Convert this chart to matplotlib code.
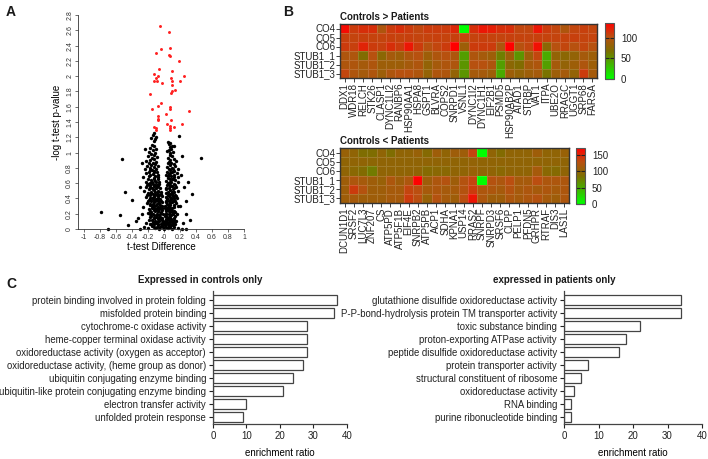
import numpy as np
import matplotlib
matplotlib.use("Agg")
import matplotlib.pyplot as plt
from matplotlib.colors import LinearSegmentedColormap

plt.rcParams['font.family'] = ['Liberation Sans', 'DejaVu Sans']
plt.rcParams['text.color'] = '#1a1a1a'
plt.rcParams['axes.edgecolor'] = '#333333'

# ---------------- data ----------------
# A: volcano plot, significant proteins (red)
red_pts = [(-0.05, 2.66), (0.06, 2.58), (-0.04, 2.36), (0.08, 2.37), (-0.10, 2.30),
           (0.06, 2.28), (0.075, 2.26), (0.19, 2.20), (-0.06, 2.09), (0.10, 2.07),
           (-0.12, 2.03), (-0.075, 2.00), (0.25, 2.00), (-0.10, 1.98), (0.09, 1.98),
           (-0.13, 1.94), (-0.09, 1.93), (-0.03, 1.91), (0.10, 1.93), (0.20, 1.94),
           (0.10, 1.88), (0.14, 1.82), (0.10, 1.80), (0.09, 1.78), (-0.17, 1.76),
           (-0.04, 1.65), (-0.075, 1.61), (0.075, 1.59), (0.08, 1.57), (-0.15, 1.57),
           (0.31, 1.54), (0.025, 1.51), (-0.07, 1.48), (-0.07, 1.44), (0.09, 1.43),
           (-0.075, 1.42), (0.04, 1.37), (0.225, 1.37), (-0.12, 1.34), (-0.10, 1.32),
           (0.07, 1.35), (0.08, 1.32), (0.12, 1.33), (-0.10, 1.30), (0.07, 1.30)]

# A: non-significant proteins (black)
black_pts = [
    (-0.12, 1.26), (-0.14, 1.23), (-0.10, 1.21), (-0.16, 1.19), (-0.11, 1.18), (-0.13, 1.15),
    (0.08, 1.13), (0.06, 1.11), (0.10, 1.09), (0.07, 1.07), (0.05, 1.14),
    (-0.15, 1.10), (-0.12, 1.08), (-0.17, 1.06), (-0.10, 1.05), (-0.14, 1.03), (-0.19, 1.01), (-0.11, 1.00),
    (0.09, 1.05), (0.06, 1.03), (0.11, 1.01), (0.08, 0.99), (0.04, 1.02), (0.13, 1.08),
    (-0.16, 0.98), (-0.13, 0.97), (-0.20, 0.95), (-0.09, 0.94), (-0.15, 0.93), (-0.12, 0.91),
    (-0.18, 0.90), (-0.23, 0.89), (-0.10, 0.88),
    (0.07, 0.97), (0.10, 0.95), (0.05, 0.93), (0.12, 0.92), (0.08, 0.90), (0.15, 0.89), (0.06, 0.88),
    (-0.14, 0.87), (-0.19, 0.86), (-0.11, 0.85), (-0.16, 0.84), (-0.08, 0.83), (-0.21, 0.82),
    (-0.13, 0.81), (-0.17, 0.80), (-0.10, 0.79), (-0.24, 0.78),
    (0.09, 0.87), (0.05, 0.86), (0.12, 0.85), (0.07, 0.84), (0.14, 0.82), (0.04, 0.81),
    (0.10, 0.80), (0.17, 0.79), (0.06, 0.78),
    (-0.15, 0.77), (-0.12, 0.76), (-0.19, 0.75), (-0.09, 0.74), (-0.22, 0.73), (-0.14, 0.72),
    (-0.07, 0.71), (-0.17, 0.70), (-0.11, 0.69), (-0.26, 0.68),
    (0.08, 0.77), (0.13, 0.76), (0.04, 0.75), (0.10, 0.74), (0.16, 0.73), (0.06, 0.72),
    (0.12, 0.71), (0.03, 0.70), (0.09, 0.69), (0.18, 0.68),
    (-0.13, 0.67), (-0.20, 0.66), (-0.08, 0.65), (-0.16, 0.64), (-0.11, 0.63), (-0.23, 0.62),
    (-0.06, 0.61), (-0.18, 0.60), (-0.14, 0.59), (-0.09, 0.58), (-0.21, 0.58),
    (0.05, 0.67), (0.11, 0.66), (0.07, 0.65), (0.14, 0.64), (0.03, 0.63), (0.09, 0.62),
    (0.17, 0.61), (0.05, 0.60), (0.12, 0.59), (0.08, 0.58),
    (-0.17, 0.57), (-0.12, 0.56), (-0.07, 0.56), (-0.22, 0.55), (-0.15, 0.54), (-0.10, 0.53),
    (-0.05, 0.53), (-0.19, 0.52), (-0.13, 0.51), (-0.08, 0.50), (-0.25, 0.50), (-0.16, 0.49),
    (-0.11, 0.48), (-0.04, 0.48),
    (0.04, 0.57), (0.10, 0.56), (0.15, 0.55), (0.06, 0.54), (0.12, 0.53), (0.02, 0.52),
    (0.08, 0.51), (0.18, 0.50), (0.05, 0.49), (0.13, 0.48), (0.10, 0.48),
    (-0.20, 0.47), (-0.14, 0.46), (-0.09, 0.46), (-0.06, 0.45), (-0.17, 0.44), (-0.12, 0.43),
    (-0.03, 0.43), (-0.23, 0.42), (-0.08, 0.41), (-0.15, 0.40), (-0.10, 0.39), (-0.05, 0.39),
    (-0.19, 0.38), (-0.13, 0.38),
    (0.03, 0.47), (0.08, 0.46), (0.14, 0.45), (0.06, 0.44), (0.11, 0.43), (0.02, 0.42),
    (0.16, 0.41), (0.09, 0.40), (0.04, 0.39), (0.13, 0.38), (0.07, 0.38),
    (-0.16, 0.37), (-0.11, 0.36), (-0.07, 0.36), (-0.03, 0.35), (-0.21, 0.34), (-0.14, 0.33),
    (-0.09, 0.33), (-0.05, 0.32), (-0.18, 0.31), (-0.12, 0.30), (-0.02, 0.30), (-0.08, 0.29),
    (-0.15, 0.28), (-0.26, 0.29),
    (0.02, 0.37), (0.06, 0.36), (0.10, 0.35), (0.15, 0.34), (0.04, 0.33), (0.08, 0.32),
    (0.12, 0.31), (0.01, 0.30), (0.18, 0.30), (0.06, 0.29), (0.10, 0.28),
    (-0.13, 0.27), (-0.10, 0.26), (-0.06, 0.26), (-0.02, 0.25), (-0.17, 0.24), (-0.11, 0.23),
    (-0.07, 0.23), (-0.04, 0.22), (-0.20, 0.21), (-0.14, 0.20), (-0.09, 0.20), (-0.01, 0.19),
    (-0.06, 0.18), (-0.12, 0.18),
    (0.01, 0.27), (0.05, 0.26), (0.09, 0.25), (0.13, 0.24), (0.03, 0.23), (0.07, 0.22),
    (0.11, 0.21), (0.16, 0.20), (0.02, 0.20), (0.06, 0.19), (0.09, 0.18),
    (-0.16, 0.17), (-0.10, 0.16), (-0.05, 0.16), (-0.02, 0.15), (-0.13, 0.14), (-0.08, 0.13),
    (-0.04, 0.13), (-0.19, 0.12), (-0.11, 0.11), (-0.06, 0.11), (-0.01, 0.10), (-0.14, 0.09),
    (-0.09, 0.09), (-0.03, 0.08), (-0.22, 0.08),
    (0.01, 0.17), (0.04, 0.16), (0.08, 0.15), (0.12, 0.14), (0.02, 0.13), (0.06, 0.12),
    (0.10, 0.11), (0.15, 0.10), (0.03, 0.10), (0.07, 0.09), (0.00, 0.08), (0.11, 0.08),
    (-0.18, 0.07), (-0.12, 0.06), (-0.07, 0.06), (-0.03, 0.05), (0.01, 0.05), (0.05, 0.06),
    (0.09, 0.05), (0.14, 0.06), (-0.15, 0.04), (-0.09, 0.03), (-0.05, 0.03), (-0.01, 0.02),
    (0.03, 0.03), (0.07, 0.02), (0.12, 0.03), (-0.25, 0.02), (-0.20, 0.01), (-0.11, 0.01),
    (-0.06, 0.00), (0.00, 0.00), (0.05, 0.01), (0.10, 0.00), (0.17, 0.01), (0.22, 0.00),
    (-0.30, 0.00), (0.28, 0.00),
    # denser core
    (-0.13, 0.02), (-0.08, 0.05), (-0.04, 0.07), (0.02, 0.07), (0.06, 0.04), (0.11, 0.05),
    (-0.16, 0.06), (-0.02, 0.04), (0.04, 0.09), (0.08, 0.07), (-0.10, 0.08), (0.13, 0.09),
    (-0.15, 0.12), (-0.12, 0.15), (-0.07, 0.14), (-0.03, 0.12), (0.02, 0.11), (0.05, 0.14),
    (0.09, 0.13), (0.13, 0.12), (-0.18, 0.16), (-0.09, 0.18), (0.03, 0.19), (0.07, 0.17),
    (0.11, 0.19), (-0.05, 0.20), (-0.17, 0.19), (0.14, 0.17),
    (-0.16, 0.22), (-0.12, 0.25), (-0.08, 0.24), (-0.05, 0.27), (-0.19, 0.26), (-0.15, 0.30),
    (0.02, 0.25), (0.06, 0.23), (0.10, 0.24), (0.14, 0.22), (0.04, 0.28), (0.08, 0.27),
    (0.12, 0.29), (-0.09, 0.28), (-0.03, 0.28),
    (-0.17, 0.33), (-0.13, 0.35), (-0.10, 0.32), (-0.06, 0.34), (-0.20, 0.36), (-0.04, 0.37),
    (-0.08, 0.38), (0.03, 0.35), (0.07, 0.34), (0.11, 0.37), (0.14, 0.36), (0.05, 0.31),
    (0.09, 0.39), (-0.14, 0.39),
    (-0.18, 0.41), (-0.13, 0.42), (-0.07, 0.43), (-0.11, 0.45), (-0.16, 0.47), (-0.04, 0.46),
    (-0.21, 0.45), (0.04, 0.41), (0.07, 0.42), (0.12, 0.41), (0.05, 0.45), (0.10, 0.46),
    (0.15, 0.43), (-0.08, 0.48),
    (-0.14, 0.52), (-0.09, 0.55), (-0.18, 0.55), (-0.11, 0.58), (-0.06, 0.59), (0.03, 0.54),
    (0.07, 0.56), (0.11, 0.52), (0.06, 0.59), (0.14, 0.58), (-0.20, 0.59),
    (-0.10, 0.61), (-0.15, 0.62), (-0.12, 0.66), (-0.19, 0.69), (-0.08, 0.68), (0.07, 0.62),
    (0.10, 0.65), (0.05, 0.69), (0.12, 0.68), (-0.13, 0.74), (-0.17, 0.77), (0.08, 0.73),
    (0.11, 0.78),
    # outliers
    (0.46, 0.93), (-0.53, 0.91), (-0.28, 0.86), (-0.49, 0.49), (-0.40, 0.38), (0.35, 0.46),
    (0.30, 0.62), (-0.79, 0.22), (-0.55, 0.18), (0.27, 0.37), (0.21, 0.71), (0.19, 1.22),
    (-0.70, 0.00), (-0.33, 0.15), (-0.35, 0.10), (0.24, 0.08), (0.20, 0.30), (0.25, 0.55),
    (-0.30, 0.55), (0.22, 0.95), (-0.45, 0.05), (0.33, 0.12), (-0.27, 0.20), (0.28, 0.20),
    (-0.24, 1.05),
]

# B: heatmaps
samples = ['CO4', 'CO5', 'CO6', 'STUB1_1', 'STUB1_2', 'STUB1_3']

up_genes = ['DDX1', 'WDR18', 'RELCH', 'STK26', 'CLASP1', 'DYNC1LI2', 'RANBP6', 'HSP90AA1',
            'HSPA8', 'GSPT1', 'BLVRA', 'COPS2', 'SNRPD1', 'VSNL1', 'DYNC1I2', 'DYNC1H1',
            'EIF2B1', 'PSMD5', 'HSP90AB2P', 'ATAD1', 'STRBP', 'VAT1', 'ITPA', 'UBE2O',
            'RRAGC', 'UGGT1', 'SRP68', 'FARSA']
up_vals = [
    [130, 110, 115, 115, 95, 110, 115, 110, 105, 110, 110, 110, 118, 0, 115, 125, 122, 115, 115, 105, 105, 125, 110, 105, 95, 105, 108, 105],
    [108, 106, 108, 107, 106, 108, 107, 108, 106, 107, 108, 107, 108, 105, 107, 108, 107, 106, 108, 107, 106, 108, 107, 106, 107, 108, 106, 107],
    [110, 108, 120, 110, 108, 115, 110, 125, 110, 100, 105, 110, 135, 85, 110, 110, 110, 95, 135, 100, 105, 128, 75, 100, 105, 100, 105, 100],
    [95, 95, 70, 100, 75, 90, 85, 95, 100, 85, 95, 100, 95, 45, 95, 90, 85, 60, 85, 50, 85, 105, 40, 80, 75, 80, 90, 85],
    [95, 95, 90, 95, 85, 85, 85, 90, 95, 80, 90, 95, 95, 50, 100, 100, 95, 45, 75, 70, 90, 95, 45, 90, 80, 85, 95, 85],
    [105, 95, 90, 95, 85, 95, 100, 100, 95, 80, 95, 95, 80, 50, 90, 90, 85, 40, 85, 80, 85, 90, 65, 85, 90, 80, 110, 90],
]

down_genes = ['DCUN1D1', 'SRSF2', 'LUC7L3', 'ZNF207', 'CS', 'ATP5PD', 'ATP5F1B', 'EIF4E',
              'SNRPB2', 'ATP5PB', 'ACP1', 'SDHA', 'KPNA1', 'USP14', 'RRAS2', 'SNRPF',
              'SNRPD3', 'SRSF6', 'CLPP', 'PELP1', 'PFDN5', 'GRHPR', 'RTRAF', 'DIS3', 'LAS1L']
down_vals = [
    [105, 100, 88, 88, 100, 88, 100, 100, 105, 92, 110, 100, 110, 110, 135, 0, 100, 90, 100, 100, 100, 110, 100, 100, 105],
    [100, 100, 100, 98, 100, 100, 100, 100, 100, 100, 100, 100, 100, 100, 102, 100, 100, 100, 100, 100, 100, 100, 100, 100, 100],
    [100, 95, 90, 78, 100, 100, 100, 100, 100, 92, 95, 95, 100, 100, 105, 100, 100, 95, 100, 100, 100, 115, 95, 92, 100],
    [110, 120, 115, 110, 105, 120, 110, 120, 170, 110, 120, 125, 110, 125, 135, 0, 125, 120, 130, 115, 115, 130, 120, 120, 120],
    [110, 140, 125, 110, 110, 115, 115, 135, 130, 115, 120, 115, 115, 125, 140, 120, 120, 115, 125, 115, 120, 115, 120, 115, 120],
    [110, 115, 110, 110, 110, 115, 115, 140, 130, 105, 125, 115, 110, 130, 160, 120, 110, 110, 120, 115, 120, 125, 115, 110, 120],
]

# C: GO enrichment
ctrl_terms = ['protein binding involved in protein folding', 'misfolded protein binding',
              'cytochrome-c oxidase activity', 'heme-copper terminal oxidase activity',
              'oxidoreductase activity (oxygen as acceptor)',
              'oxidoreductase activity, (heme group as donor)',
              'ubiquitin conjugating enzyme binding',
              'ubiquitin-like protein conjugating enzyme binding',
              'electron transfer activity', 'unfolded protein response']
ctrl_ratio = [37, 36, 28, 28, 28, 27, 24, 21, 10, 9]

pat_terms = ['glutathione disulfide oxidoreductase activity',
             'P-P-bond-hydrolysis protein TM transporter activity',
             'toxic substance binding', 'proton-exporting ATPase activity',
             'peptide disulfide oxidoreductase activity', 'protein transporter activity',
             'structural constituent of ribosome', 'oxidoreductase activity',
             'RNA binding', 'purine ribonucleotide binding']
pat_ratio = [34, 34, 22, 18, 16, 7, 5, 3, 2, 2]

# ---------------- layout helpers ----------------
W, H = 708, 459


def px_rect(l, t, r, b):
    return [l / W, 1 - b / H, (r - l) / W, (b - t) / H]


fig = plt.figure(figsize=(W / 100, H / 100), dpi=100)

# ---------------- A: volcano ----------------
ax = fig.add_axes(px_rect(78, 15, 244, 229))
bx, by = zip(*black_pts)
rx, ry = zip(*red_pts)
ax.scatter(bx, by, s=6, c='black', linewidths=0, clip_on=False, zorder=2)
ax.scatter(rx, ry, s=4.5, c='#ff2020', linewidths=0, clip_on=False, zorder=3)
ax.set_xlim(-1.075, 1.0)
ax.set_ylim(0, 2.8)
for s in ['top', 'right']:
    ax.spines[s].set_visible(False)
for s in ['left', 'bottom']:
    ax.spines[s].set_linewidth(0.6)
yt = np.round(np.arange(0, 2.81, 0.2), 1)
ax.set_yticks(yt)
ax.set_yticklabels(['%g' % v for v in yt], rotation=90, va='center')
xt = np.round(np.arange(-1, 1.01, 0.2), 1)
ax.set_xticks(xt)
ax.set_xticklabels(['%g' % v for v in xt])
ax.tick_params(labelsize=5, length=2, width=0.5, pad=1.5, colors='#333333')
ax.set_ylabel('-log t-test p-value', fontsize=7, labelpad=3)
ax.set_xlabel('t-test Difference', fontsize=7, labelpad=1)

# ---------------- B: heatmaps ----------------
cmap = LinearSegmentedColormap.from_list(
    'gr', [(0, '#00ff00'), (0.5, '#7d6e00'), (0.75, '#b95010'), (1, '#ff0000')])


def heat(rect, crect, vals, genes, vmax, ticks, title):
    axh = fig.add_axes(px_rect(*rect))
    m = axh.pcolormesh(np.array(vals, float), cmap=cmap, vmin=0, vmax=vmax,
                       edgecolors=(1, 1, 1, 0.15), linewidth=0.4)
    axh.set_xlim(0, len(genes))
    axh.set_ylim(len(samples), 0)
    axh.set_xticks(np.arange(len(genes)) + 0.5)
    axh.set_xticklabels(genes, rotation=90)
    axh.set_yticks(np.arange(len(samples)) + 0.5)
    axh.set_yticklabels(samples)
    axh.tick_params(labelsize=7, length=3, width=0.6, pad=0.5, colors='#222222')
    for s in axh.spines.values():
        s.set_linewidth(1.0)
        s.set_color('#333333')
    axh.set_title(title, fontsize=7, fontweight='bold', loc='left', pad=3)
    cax = fig.add_axes(px_rect(*crect))
    cb = fig.colorbar(m, cax=cax, ticks=ticks)
    cb.outline.set_linewidth(0.8)
    cb.outline.set_edgecolor('#555555')
    cax.tick_params(labelsize=7, length=3, width=0.8, direction='in', left=True, right=True,
                    pad=5, colors='#222222')
    return axh


heat((340, 24, 597, 78), (605, 23, 614, 79), up_vals, up_genes, 135, [0, 50, 100],
     'Controls > Patients')
heat((340, 148, 569, 203), (576, 148, 585, 204), down_vals, down_genes, 172, [0, 50, 100, 150],
     'Controls < Patients')

# ---------------- C: bar charts ----------------


def bars(rect, terms, ratio):
    axb = fig.add_axes(px_rect(*rect))
    axb.barh(np.arange(len(terms)), ratio, height=0.72, color='white',
             edgecolor='#444444', linewidth=0.9)
    axb.set_xlim(0, 40)
    axb.set_ylim(9.54, -0.69)
    axb.set_yticks(np.arange(len(terms)))
    axb.set_yticklabels(terms, fontsize=6.9)
    axb.set_xticks([0, 10, 20, 30, 40])
    for s in ['top', 'right']:
        axb.spines[s].set_visible(False)
    for s in ['left', 'bottom']:
        axb.spines[s].set_linewidth(0.9)
        axb.spines[s].set_color('#444444')
    axb.tick_params(axis='x', labelsize=7)
    axb.tick_params(length=3, width=0.8, pad=2, colors='#222222')
    axb.set_xlabel('enrichment ratio', fontsize=7, labelpad=5)
    return axb


bars((213, 291, 347, 424), ctrl_terms, ctrl_ratio)
bars((564, 291, 702, 424), pat_terms, pat_ratio)

fig.text(200 / W, 1 - 280 / H, 'Expressed in controls only', fontsize=7, fontweight='bold',
         ha='center', va='center')
fig.text(554 / W, 1 - 280 / H, 'expressed in patients only', fontsize=7, fontweight='bold',
         ha='center', va='center')

# panel letters
fig.text(6 / W, 1 - 12 / H, 'A', fontsize=10, fontweight='bold', va='center')
fig.text(283 / W, 1 - 12 / H, 'B', fontsize=10, fontweight='bold', va='center')
fig.text(6 / W, 1 - 284 / H, 'C', fontsize=10, fontweight='bold', va='center')

fig.savefig('out.png', dpi=100)
